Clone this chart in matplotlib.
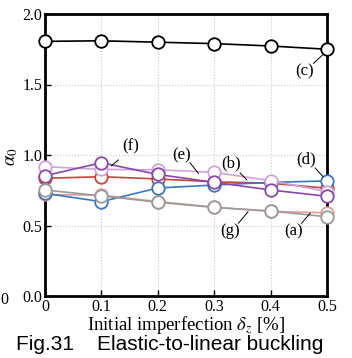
import matplotlib
matplotlib.use("Agg")
import matplotlib.pyplot as plt

# initial imperfection [%]
delta_z = [0.0, 0.1, 0.2, 0.3, 0.4, 0.5]

# alpha_0 for each case
alpha_a = [0.72, 0.715, 0.67, 0.63, 0.60, 0.59]
alpha_b = [0.835, 0.846, 0.83, 0.81, 0.80, 0.764]
alpha_c = [1.806, 1.81, 1.80, 1.79, 1.773, 1.75]
alpha_d = [0.728, 0.669, 0.766, 0.787, 0.806, 0.816]
alpha_e = [0.917, 0.898, 0.895, 0.877, 0.818, 0.74]
alpha_f = [0.853, 0.945, 0.862, 0.806, 0.752, 0.707]
alpha_g = [0.752, 0.71, 0.665, 0.628, 0.603, 0.562]

series = [
    ("(a)", alpha_a, "#e89a94"),
    ("(b)", alpha_b, "#c8443a"),
    ("(d)", alpha_d, "#3a76c2"),
    ("(e)", alpha_e, "#cfa2dc"),
    ("(f)", alpha_f, "#8b46a8"),
    ("(g)", alpha_g, "#9a9a9a"),
    ("(c)", alpha_c, "#000000"),
]

# label text position, leader line start and end (data coords)
notes = [
    ("(f)", (0.152, 1.06), (0.13, 0.965), (0.118, 0.924)),
    ("(e)", (0.242, 1.00), (0.257, 0.945), (0.272, 0.87)),
    ("(b)", (0.33, 0.94), (0.346, 0.872), (0.358, 0.823)),
    ("(d)", (0.462, 0.97), (0.479, 0.908), (0.493, 0.846)),
    ("(c)", (0.46, 1.59), (0.476, 1.65), (0.492, 1.709)),
    ("(g)", (0.328, 0.463), (0.343, 0.516), (0.36, 0.598)),
    ("(a)", (0.44, 0.456), (0.455, 0.516), (0.47, 0.587)),
]

plt.rcParams["font.family"] = ["Liberation Serif", "DejaVu Serif"]
plt.rcParams["mathtext.fontset"] = "stix"

fig = plt.figure(figsize=(3.52, 3.58), dpi=100)
ax = fig.add_axes([45 / 352, 1 - 296 / 358, 282 / 352, 282 / 358])

for name, ys, col in series:
    ax.plot(delta_z, ys, color=col, lw=1.2, marker="o", ms=9,
            mfc="white", mec=col, mew=1.3, clip_on=False, zorder=3)

for txt, (tx, ty), p0, p1 in notes:
    ax.text(tx, ty, txt, fontsize=12, ha="center", va="center")
    ax.plot([p0[0], p1[0]], [p0[1], p1[1]], color="black", lw=0.7, zorder=4)

ax.set_xlim(0, 0.5)
ax.set_ylim(0, 2.0)
ax.set_xticks([0, 0.1, 0.2, 0.3, 0.4, 0.5])
ax.set_xticklabels(["0", "0.1", "0.2", "0.3", "0.4", "0.5"])
ax.set_yticks([0, 0.5, 1.0, 1.5, 2.0])
ax.set_yticklabels(["0.0", "0.5", "1.0", "1.5", "2.0"])
ax.tick_params(direction="in", labelsize=11.5, width=1.0, length=4, pad=2)
ax.grid(True, color="#c8c8c8", ls=":", lw=0.8)
for s in ax.spines.values():
    s.set_linewidth(2.0)

ax.set_xlabel(r"Initial imperfection $\delta_z$ [%]", fontsize=13.5, labelpad=0)
fig.text(12 / 352, 1 - 157 / 358, r"$\alpha_0$", fontsize=13.5, rotation=90,
         ha="center", va="center")

fig.text(170 / 352, 1 - 345 / 358, "Fig.31    Elastic-to-linear buckling",
         family="Liberation Sans", fontsize=15, ha="center", va="center")
fig.text(4 / 352, 1 - 300 / 358, "0", fontsize=11.5, ha="center", va="center")

fig.savefig("out.png", dpi=100)
